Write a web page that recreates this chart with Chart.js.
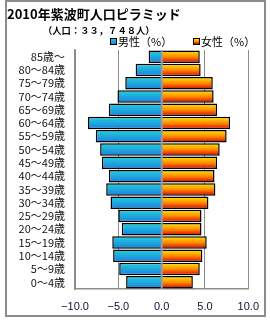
<!DOCTYPE html>
<html>
<head>
<meta charset="utf-8">
<script src="https://cdn.jsdelivr.net/npm/chart.js@4"></script>
<style>
  body { margin: 0; background: #fff; }
  #wrap { position: relative; width: 270px; height: 320px; overflow: hidden; }
  #frame { position: absolute; left: 5px; top: 0px; width: 257px; height: 313px; border: 2px solid #8c8c8c; box-sizing: content-box; }
  canvas { position: absolute; left: 0; top: 0; }
  .txt { position: absolute; font-family: "Noto Sans CJK JP", sans-serif; color: #000; white-space: nowrap; font-weight: bold; }
  #title { left: 7px; top: 6px; font-size: 13px; line-height: 16px; }
  #sub { left: 43px; top: 24px; font-size: 9.3px; line-height: 13px; }
  .leg { top: 34px; font-size: 11px; line-height: 14px; font-weight: normal; }
  .box { display: inline-block; width: 5px; height: 5px; border: 1px solid #000; margin-right: 1px; vertical-align: 1px; }
</style>
</head>
<body>
<div id="wrap">
  <div id="frame"></div>
  <canvas id="pyramid" width="270" height="320"></canvas>
  <div class="txt" id="title">2010年紫波町人口ピラミッド</div>
  <div class="txt" id="sub">（人口：３３，７４８人）</div>
  <div class="txt leg" style="left:110px"><span class="box" style="background:linear-gradient(#22ccdd,#1a7fe0)"></span>男性（%）</div>
  <div class="txt leg" style="left:193px"><span class="box" style="background:linear-gradient(#ffe600,#ff8a00,#e00000)"></span>女性（%）</div>
</div>
<script>
// age groups, top to bottom
const ageLabels = ['85歳～', '80～84歳', '75～79歳', '70～74歳', '65～69歳', '60～64歳', '55～59歳',
  '50～54歳', '45～49歳', '40～44歳', '35～39歳', '30～34歳', '25～29歳', '20～24歳',
  '15～19歳', '10～14歳', '5～9歳', '0～4歳'];
// male share (%), drawn to the left
const malePct = [1.5, 3.0, 4.2, 5.1, 6.1, 8.5, 7.6, 7.1, 6.9, 6.1, 6.4, 5.9, 5.0, 4.6, 5.7, 5.6, 4.9, 4.1];
// female share (%)
const femalePct = [4.4, 4.5, 5.9, 6.0, 6.4, 7.9, 7.5, 6.7, 6.4, 6.1, 6.2, 5.4, 4.6, 4.6, 5.2, 4.7, 4.4, 3.6];
const xTicks = [-10, -5, 0, 5, 10];

const BAR_PCT = 0.94;

// vertical gradient per bar row
function rowGradient(stops, fallback) {
  return (ctx) => {
    const chart = ctx.chart;
    const y = chart.scales && chart.scales.y;
    if (!y || !chart.chartArea || ctx.dataIndex === undefined) return fallback;
    const c = y.getPixelForValue(ctx.dataIndex);
    const h = (y.height / ageLabels.length) * BAR_PCT;
    const g = chart.ctx.createLinearGradient(0, c - h / 2, 0, c + h / 2);
    stops.forEach((s, i) => g.addColorStop(i / (stops.length - 1), s));
    return g;
  };
}

// axis line at zero, on top of the bars
const zeroLine = {
  id: 'zeroLine',
  afterDatasetsDraw(chart) {
    const x = chart.scales.x.getPixelForValue(0);
    const { top, bottom } = chart.chartArea;
    const c = chart.ctx;
    c.save();
    c.strokeStyle = '#8a98a8';
    c.lineWidth = 2;
    c.beginPath();
    c.moveTo(x, top);
    c.lineTo(x, bottom);
    c.stroke();
    c.restore();
  }
};

new Chart(document.getElementById('pyramid'), {
  type: 'bar',
  data: {
    labels: ageLabels,
    datasets: [
      {
        label: '男性（%）',
        data: malePct.map(v => -v),
        backgroundColor: rowGradient(['#24d0dc', '#1a7fe0'], '#1aa0e0'),
        borderColor: '#000',
        borderWidth: 1.5
      },
      {
        label: '女性（%）',
        data: femalePct,
        backgroundColor: rowGradient(['#ffe800', '#ff8c00', '#dc0000'], '#ff8c00'),
        borderColor: '#000',
        borderWidth: 1.5
      }
    ]
  },
  options: {
    indexAxis: 'y',
    responsive: false,
    animation: false,
    layout: { padding: { left: 0, top: 50, right: 21, bottom: 0 } },
    datasets: { bar: { barPercentage: BAR_PCT, categoryPercentage: 1 } },
    plugins: { legend: { display: false }, tooltip: { enabled: false } },
    scales: {
      x: {
        stacked: true,
        min: -10,
        max: 10,
        afterBuildTicks: (s) => { s.ticks = xTicks.map(v => ({ value: v })); },
        afterFit: (s) => { s.height = 31; },
        grid: { color: '#8c8c8c', lineWidth: 1, drawTicks: false },
        border: { color: '#8c8c8c', width: 1.5 },
        ticks: {
          padding: 11,
          color: '#10103a',
          font: { family: 'Liberation Sans', size: 11 },
          callback: (v) => (v < 0 ? '−' : '') + Math.abs(v).toFixed(1)
        }
      },
      y: {
        stacked: true,
        afterFit: (s) => { s.width = 75; },
        grid: { display: false, drawTicks: false },
        border: { color: '#8c8c8c', width: 1.5 },
        ticks: {
          autoSkip: false,
          padding: 10,
          color: '#111',
          font: { family: 'Noto Sans CJK JP', size: 11, lineHeight: 1 }
        }
      }
    }
  },
  plugins: [zeroLine]
});
</script>
</body>
</html>
